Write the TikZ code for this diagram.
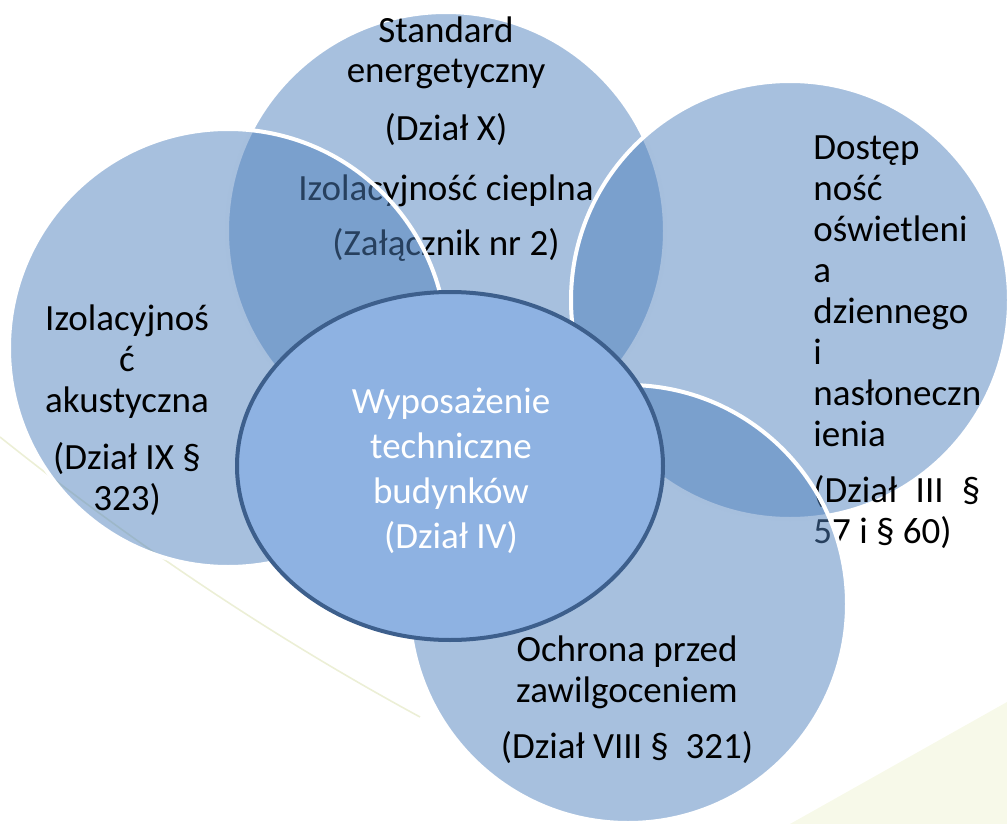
\documentclass[tikz,border=0pt]{standalone}
\usepackage{fontspec}
\setmainfont{Carlito}
\usetikzlibrary{shapes.geometric}

\definecolor{vennblue}{RGB}{79,129,189}
\definecolor{hubfill}{RGB}{142,178,226}
\definecolor{hubedge}{RGB}{61,95,140}
\definecolor{decoline}{RGB}{236,239,214}
\definecolor{decofill}{RGB}{247,249,233}

\begin{document}
\begin{tikzpicture}[
    x=0.5pt,
    y=-0.5pt,
    venn/.style={
        circle,
        draw=white,
        line width=2pt,
        fill=vennblue,
        fill opacity=0.5,
        draw opacity=1,
        minimum size=219pt,
        inner sep=0pt
    },
    hub/.style={
        ellipse,
        draw=hubedge,
        line width=2pt,
        fill=hubfill,
        minimum width=213pt,
        minimum height=174pt,
        inner sep=0pt
    },
    vtext/.style={
        font=\fontsize{18.5}{20.5}\selectfont,
        align=center,
        anchor=base,
        inner sep=0pt
    },
    hubtext/.style={
        vtext,
        text=white,
        font=\fontsize{18.5}{22.5}\selectfont
    }
]
    \useasboundingbox (0,0) rectangle (1007,824);

    % --- Background strokes ---
    \draw [decoline, line width=0.8pt] (0,437) .. controls (140,549) and (280,641) .. (420,717);
    \fill [decofill] (790,824) -- (1007,702) -- (1007,824) -- cycle;

    % --- Circles (each with its text, in stacking order) ---
    % (text nodes are anchored on the baseline of their last line)
    \node [venn] (energy) at (446,231) {};
    \node [vtext] (energytxt) at (446,255) {
        Standard\\energetyczny\\[8pt]
        (Dział X)\\[9.5pt]
        Izolacyjność cieplna\\[7pt]
        (Załącznik nr 2)
    };

    \node [venn] (acoustic) at (228,348) {};
    \node [vtext] (acoustictxt) at (127,510) {
        Izolacyjnoś\\ć\\akustyczna\\[8pt]
        (Dział IX §\\323)
    };

    \node [venn] (daylight) at (790,300) {};
    \node [vtext, align=left, anchor=base west] (daylighttxt) at (813,543) {
        Dostęp\\ność\\oświetleni\\a\\dziennego\\i\\nasłoneczn\\ienia\\[7.5pt]
        \makebox[83.5pt][s]{(Dział\hfill III\hfill §}\\57 i § 60)
    };

    \node [venn] (damp) at (628,604) {};
    \node [vtext] (damptxt) at (627,758) {
        Ochrona przed\\zawilgoceniem\\[7.5pt]
        (Dział VIII §~~321)
    };

    % --- Centre ---
    \node [hub] (equip) at (450,466) {};
    \node [hubtext] (equiptxt) at (451,548) {
        Wyposażenie\\techniczne\\budynków\\(Dział IV)
    };

\end{tikzpicture}
\end{document}
